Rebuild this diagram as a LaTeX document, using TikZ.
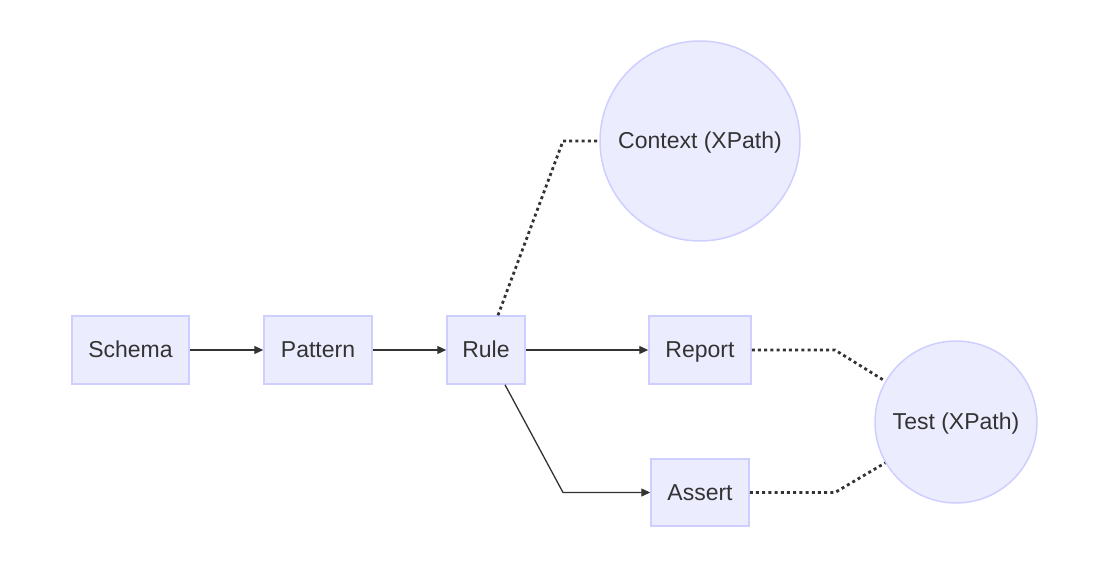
\documentclass[tikz,border=0pt]{standalone}
\usepackage{fontspec}
\setmainfont{Liberation Sans}
\usetikzlibrary{arrows.meta}
\definecolor{nodefill}{HTML}{ECECFF}
\definecolor{nodeline}{HTML}{CFCFFF}
\definecolor{ink}{HTML}{333333}
\tikzset{
  lbl/.style={text=ink, font=\fontsize{23}{27}\selectfont, text height=18pt, text depth=3pt},
  box/.style={lbl, draw=nodeline, fill=nodefill, line width=1.5pt, inner sep=0pt},
  ball/.style={lbl, circle, draw=nodeline, fill=nodefill, line width=1.5pt, inner sep=0pt},
  flow/.style={draw=ink, line width=1.3pt, -{Triangle[length=9pt,width=8pt]}},
  link/.style={draw=ink, line width=2.8pt, dash pattern=on 3pt off 3.2pt}
}
\begin{document}
\begin{tikzpicture}[x=1pt,y=-1pt]
\useasboundingbox (0,0) rectangle (1098,569);
\node[box, minimum width=117pt, minimum height=68pt] (schema) at (130.5,350) {Schema};
\node[box, minimum width=108pt, minimum height=68pt] (pattern) at (318,350) {Pattern};
\node[box, minimum width=78pt, minimum height=68pt] (rule) at (486,350) {Rule};
\node[box, minimum width=102pt, minimum height=68pt] (report) at (700,350) {Report};
\node[box, minimum width=98pt, minimum height=67pt] (assert) at (700,492.5) {Assert};
\node[ball, minimum size=200pt] (context) at (700,141) {Context (XPath)};
\node[ball, minimum size=162pt] (test) at (956,422) {Test (XPath)};
\coordinate (ctxbend) at (563,141);
\coordinate (asbend) at (563,492.5);
\coordinate (repbend) at (835,350);
\coordinate (assbend) at (835,492.5);
\draw[flow] (schema) -- (pattern);
\draw[flow] (pattern) -- (rule);
\draw[flow] (rule) -- (report);
\draw[flow] (rule.south) ++(19,0) -- (asbend) -- (assert.west);
\draw[link] ([xshift=12pt]rule.north) -- (ctxbend) -- (context.west);
\draw[link] (report.east) -- (repbend) -- (test.150);
\draw[link] (assert.east) -- (assbend) -- (test.-150);
\end{tikzpicture}
\end{document}
